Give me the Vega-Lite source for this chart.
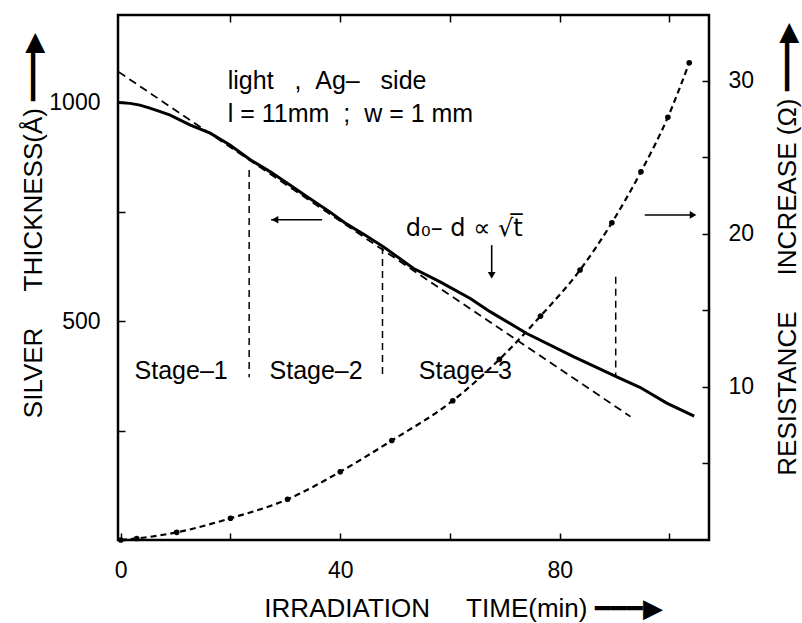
{
  "$schema": "https://vega.github.io/schema/vega-lite/v6.json",
  "width": 591,
  "height": 525,
  "autosize": {"type": "none"},
  "padding": {"left": 118, "top": 15, "right": 93, "bottom": 83},
  "background": "white",
  "config": {
    "view": {"stroke": "black", "strokeWidth": 2.5},
    "font": "Liberation Sans",
    "axis": {
      "domain": false,
      "grid": false,
      "tickSize": -7,
      "tickWidth": 1.5,
      "tickColor": "black",
      "labelFont": "Liberation Sans",
      "labelFontSize": 23,
      "labelColor": "black",
      "titleFont": "Liberation Sans",
      "titleFontSize": 26,
      "titleFontWeight": "normal",
      "titleColor": "black",
      "labelPadding": 25
    }
  },
  "datasets": {
    "thick": [
      {"t": -0.4, "d": 1000}, {"t": 1.7, "d": 998}, {"t": 3.5, "d": 994}, {"t": 5.3, "d": 987},
      {"t": 7.2, "d": 979}, {"t": 9.0, "d": 971}, {"t": 12.6, "d": 949}, {"t": 16.3, "d": 930},
      {"t": 19.9, "d": 903}, {"t": 23.6, "d": 869}, {"t": 27.2, "d": 842}, {"t": 30.9, "d": 811},
      {"t": 33.9, "d": 785}, {"t": 38.1, "d": 750}, {"t": 41.2, "d": 722}, {"t": 44.5, "d": 697},
      {"t": 47.9, "d": 670}, {"t": 53.3, "d": 621}, {"t": 58.2, "d": 590}, {"t": 63.7, "d": 552},
      {"t": 67.3, "d": 522}, {"t": 74.0, "d": 472}, {"t": 82.5, "d": 419}, {"t": 90.4, "d": 373},
      {"t": 94.6, "d": 349}, {"t": 99.5, "d": 313}, {"t": 104.5, "d": 283}
    ],
    "fit": [{"t": -0.4, "d": 1070}, {"t": 92.9, "d": 282}],
    "vlines": [
      {"t": 23.4, "d1": 846, "d2": 372},
      {"t": 47.7, "d1": 670, "d2": 372},
      {"t": 90.2, "d1": 602, "d2": 377}
    ],
    "arrows": [
      {"t1": 27.4, "t2": 36.7, "d1": 732, "d2": 732},
      {"t1": 95.5, "t2": 104.4, "d1": 743, "d2": 743},
      {"t1": 67.6, "t2": 67.6, "d1": 674, "d2": 606}
    ],
    "heads": [
      {"t": 28.1, "d": 732, "shape": "triangle-left"},
      {"t": 104.3, "d": 743, "shape": "triangle-right"},
      {"t": 67.6, "d": 605, "shape": "triangle-down"}
    ],
    "notesL": [
      {"t": 19.5, "d": 1032, "text": "light\u00a0\u00a0\u00a0,\u00a0\u00a0Ag–\u00a0\u00a0\u00a0side"},
      {"t": 19.5, "d": 956, "text": "l\u00a0=\u00a011mm\u00a0\u00a0;\u00a0\u00a0w\u00a0=\u00a01\u00a0mm"}
    ],
    "stages": [
      {"t": 11.0, "d": 367, "text": "Stage–1"},
      {"t": 35.6, "d": 367, "text": "Stage–2"},
      {"t": 62.8, "d": 367, "text": "Stage–3"}
    ],
    "formula": [{"t": 62.6, "d": 695, "text": "d₀– d ∝ √t̅"}],
    "resist": [
      {"t": 0, "R": 0}, {"t": 2.9, "R": 0.1}, {"t": 10.2, "R": 0.5}, {"t": 20.0, "R": 1.42},
      {"t": 30.4, "R": 2.66}, {"t": 40.0, "R": 4.46}, {"t": 49.4, "R": 6.5}, {"t": 60.5, "R": 9.1},
      {"t": 69.0, "R": 11.8}, {"t": 76.5, "R": 14.63}, {"t": 83.7, "R": 17.64}, {"t": 89.5, "R": 20.73},
      {"t": 94.8, "R": 24.06}, {"t": 99.7, "R": 27.62}, {"t": 103.6, "R": 31.18}
    ]
  },
  "layer": [
    {
      "data": {"name": "fit"},
      "mark": {"type": "line", "color": "black", "strokeWidth": 1.8, "strokeDash": [8, 5]},
      "encoding": {
        "x": {"field": "t", "type": "quantitative", "scale": {"domain": [-0.5, 107.2], "nice": false, "zero": false},
          "axis": {"orient": "bottom", "values": [0, 20, 40, 60, 80, 100], "format": "d",
            "labelExpr": "datum.value % 40 == 0 ? datum.label : ''", "labelPadding": 26,
            "title": "IRRADIATION\u00a0\u00a0\u00a0\u00a0\u00a0TIME(min)\u00a0━━━▶", "titleX": 345, "titleY": 76,
            "titleAlign": "center", "titleBaseline": "alphabetic"}},
        "y": {"field": "d", "type": "quantitative", "scale": {"domain": [0, 1200], "nice": false, "zero": false},
          "axis": {"orient": "left", "values": [0, 250, 500, 750, 1000], "format": "d",
            "labelExpr": "datum.value == 500 || datum.value == 1000 ? datum.label : ''",
            "title": "SILVER\u00a0\u00a0\u00a0\u00a0\u00a0THICKNESS(Å)\u00a0━━━▶", "titleAngle": -90, "titleX": -85, "titleY": 210,
            "titleAlign": "center", "titleBaseline": "middle"}}
      }
    },
    {
      "data": {"name": "thick"},
      "mark": {"type": "line", "color": "black", "strokeWidth": 3},
      "encoding": {
        "x": {"field": "t", "type": "quantitative", "scale": {"domain": [-0.5, 107.2], "nice": false, "zero": false}, "axis": null},
        "y": {"field": "d", "type": "quantitative", "scale": {"domain": [0, 1200], "nice": false, "zero": false}, "axis": null}
      }
    },
    {
      "data": {"name": "vlines"},
      "mark": {"type": "rule", "color": "black", "strokeWidth": 1.5, "strokeDash": [7, 5]},
      "encoding": {
        "x": {"field": "t", "type": "quantitative", "scale": {"domain": [-0.5, 107.2], "nice": false, "zero": false}, "axis": null},
        "y": {"field": "d1", "type": "quantitative", "scale": {"domain": [0, 1200], "nice": false, "zero": false}, "axis": null},
        "y2": {"field": "d2"}
      }
    },
    {
      "data": {"name": "arrows"},
      "mark": {"type": "rule", "color": "black", "strokeWidth": 1.6},
      "encoding": {
        "x": {"field": "t1", "type": "quantitative", "scale": {"domain": [-0.5, 107.2], "nice": false, "zero": false}, "axis": null},
        "x2": {"field": "t2"},
        "y": {"field": "d1", "type": "quantitative", "scale": {"domain": [0, 1200], "nice": false, "zero": false}, "axis": null},
        "y2": {"field": "d2"}
      }
    },
    {
      "data": {"name": "heads"},
      "mark": {"type": "point", "filled": true, "color": "black", "size": 60, "opacity": 1},
      "encoding": {
        "x": {"field": "t", "type": "quantitative", "scale": {"domain": [-0.5, 107.2], "nice": false, "zero": false}, "axis": null},
        "y": {"field": "d", "type": "quantitative", "scale": {"domain": [0, 1200], "nice": false, "zero": false}, "axis": null},
        "shape": {"field": "shape", "type": "nominal", "scale": null, "legend": null}
      }
    },
    {
      "data": {"name": "notesL"},
      "mark": {"type": "text", "align": "left", "baseline": "alphabetic", "fontSize": 25, "font": "Liberation Sans", "color": "black"},
      "encoding": {
        "x": {"field": "t", "type": "quantitative", "scale": {"domain": [-0.5, 107.2], "nice": false, "zero": false}, "axis": null},
        "y": {"field": "d", "type": "quantitative", "scale": {"domain": [0, 1200], "nice": false, "zero": false}, "axis": null},
        "text": {"field": "text"}
      }
    },
    {
      "data": {"name": "stages"},
      "mark": {"type": "text", "align": "center", "baseline": "alphabetic", "fontSize": 25, "font": "Liberation Sans", "color": "black"},
      "encoding": {
        "x": {"field": "t", "type": "quantitative", "scale": {"domain": [-0.5, 107.2], "nice": false, "zero": false}, "axis": null},
        "y": {"field": "d", "type": "quantitative", "scale": {"domain": [0, 1200], "nice": false, "zero": false}, "axis": null},
        "text": {"field": "text"}
      }
    },
    {
      "data": {"name": "formula"},
      "mark": {"type": "text", "align": "center", "baseline": "alphabetic", "fontSize": 24, "font": "DejaVu Sans", "color": "black"},
      "encoding": {
        "x": {"field": "t", "type": "quantitative", "scale": {"domain": [-0.5, 107.2], "nice": false, "zero": false}, "axis": null},
        "y": {"field": "d", "type": "quantitative", "scale": {"domain": [0, 1200], "nice": false, "zero": false}, "axis": null},
        "text": {"field": "text"}
      }
    },
    {
      "data": {"name": "resist"},
      "mark": {"type": "line", "color": "black", "strokeWidth": 2.2, "strokeDash": [6, 4], "interpolate": "monotone"},
      "encoding": {
        "x": {"field": "t", "type": "quantitative", "scale": {"domain": [-0.5, 107.2], "nice": false, "zero": false},
          "axis": {"orient": "top", "values": [20, 40, 60, 80, 100], "labels": false, "title": null}},
        "y": {"field": "R", "type": "quantitative", "scale": {"domain": [0, 34.3], "nice": false, "zero": false},
          "axis": {"orient": "right", "values": [5, 10, 15, 20, 25, 30], "format": "d",
            "labelExpr": "datum.value % 10 == 0 ? datum.label : ''", "labelPadding": 26,
            "title": "RESISTANCE\u00a0\u00a0\u00a0\u00a0\u00a0INCREASE\u00a0(Ω)\u00a0━━━▶", "titleAngle": -90, "titleX": 78, "titleY": 234,
            "titleAlign": "center", "titleBaseline": "middle"}}
      }
    },
    {
      "data": {"name": "resist"},
      "mark": {"type": "point", "filled": true, "color": "black", "size": 32, "opacity": 1},
      "encoding": {
        "x": {"field": "t", "type": "quantitative", "scale": {"domain": [-0.5, 107.2], "nice": false, "zero": false}, "axis": null},
        "y": {"field": "R", "type": "quantitative", "scale": {"domain": [0, 34.3], "nice": false, "zero": false}, "axis": null}
      }
    }
  ],
  "resolve": {"scale": {"y": "independent"}, "axis": {"x": "independent"}}
}
